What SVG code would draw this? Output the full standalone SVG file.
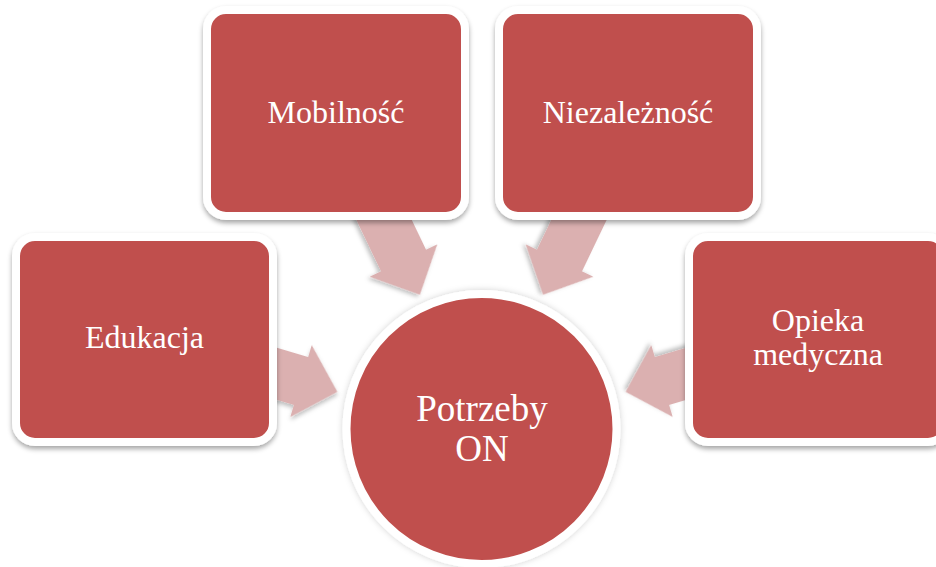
<svg xmlns="http://www.w3.org/2000/svg" width="936" height="567" viewBox="0 0 936 567">
  <defs>
    <filter id="sh" x="-20%" y="-20%" width="140%" height="140%">
      <feDropShadow dx="0" dy="3" stdDeviation="2.5" flood-color="#000" flood-opacity="0.35"/>
    </filter>
    <filter id="ash" x="-30%" y="-30%" width="160%" height="160%">
      <feDropShadow dx="1" dy="3" stdDeviation="2" flood-color="#000" flood-opacity="0.25"/>
    </filter>
    <filter id="glow" x="-20%" y="-20%" width="140%" height="140%">
      <feDropShadow dx="0" dy="0" stdDeviation="3" flood-color="#000" flood-opacity="0.18"/>
    </filter>
    <path id="arw" d="M -70,-25 L 0,-25 L 0,-37.5 L 38,0 L 0,37.5 L 0,25 L -70,25 Z"/>
  </defs>
  <style>
    .box { fill: #C0504D; stroke: #FFFFFF; stroke-width: 8; filter: url(#sh); }
    .arrow { fill: #DBB0B0; filter: url(#ash); }
    .lbl { font-family: "Liberation Serif", "Times New Roman", serif; font-size: 32px; fill: #FFFFFF; text-anchor: middle; }
    .big { font-size: 37px; }
  </style>
  <rect width="936" height="567" fill="#FFFFFF"/>
  <g id="connectors">
    <use href="#arw" class="arrow" transform="translate(301,381) rotate(16.6)"/>
    <use href="#arw" class="arrow" transform="translate(403.5,260.5) rotate(64.4)"/>
    <use href="#arw" class="arrow" transform="translate(559.5,260.5) rotate(115.6)"/>
    <use href="#arw" class="arrow" transform="translate(662,381) rotate(163.4)"/>
  </g>
  <g id="node-mobilnosc">
    <rect class="box" x="207" y="10" width="258" height="206" rx="19"/>
    <text class="lbl" x="336" y="123">Mobilność</text>
  </g>
  <g id="node-niezaleznosc">
    <rect class="box" x="499" y="10" width="258" height="206" rx="19"/>
    <text class="lbl" x="628" y="123">Niezależność</text>
  </g>
  <g id="node-edukacja">
    <rect class="box" x="16" y="237" width="257" height="205" rx="19"/>
    <text class="lbl" x="144.5" y="348">Edukacja</text>
  </g>
  <g id="node-opieka">
    <rect class="box" x="689" y="237" width="258" height="205" rx="19"/>
    <text class="lbl" x="818" y="331">Opieka</text>
    <text class="lbl" x="818" y="365">medyczna</text>
  </g>
  <g id="node-potrzeby">
    <circle cx="481.5" cy="429" r="135" fill="#C0504D" stroke="#FFFFFF" stroke-width="8" filter="url(#glow)"/>
    <text class="lbl big" x="482" y="421">Potrzeby</text>
    <text class="lbl big" x="482" y="461">ON</text>
  </g>
</svg>
